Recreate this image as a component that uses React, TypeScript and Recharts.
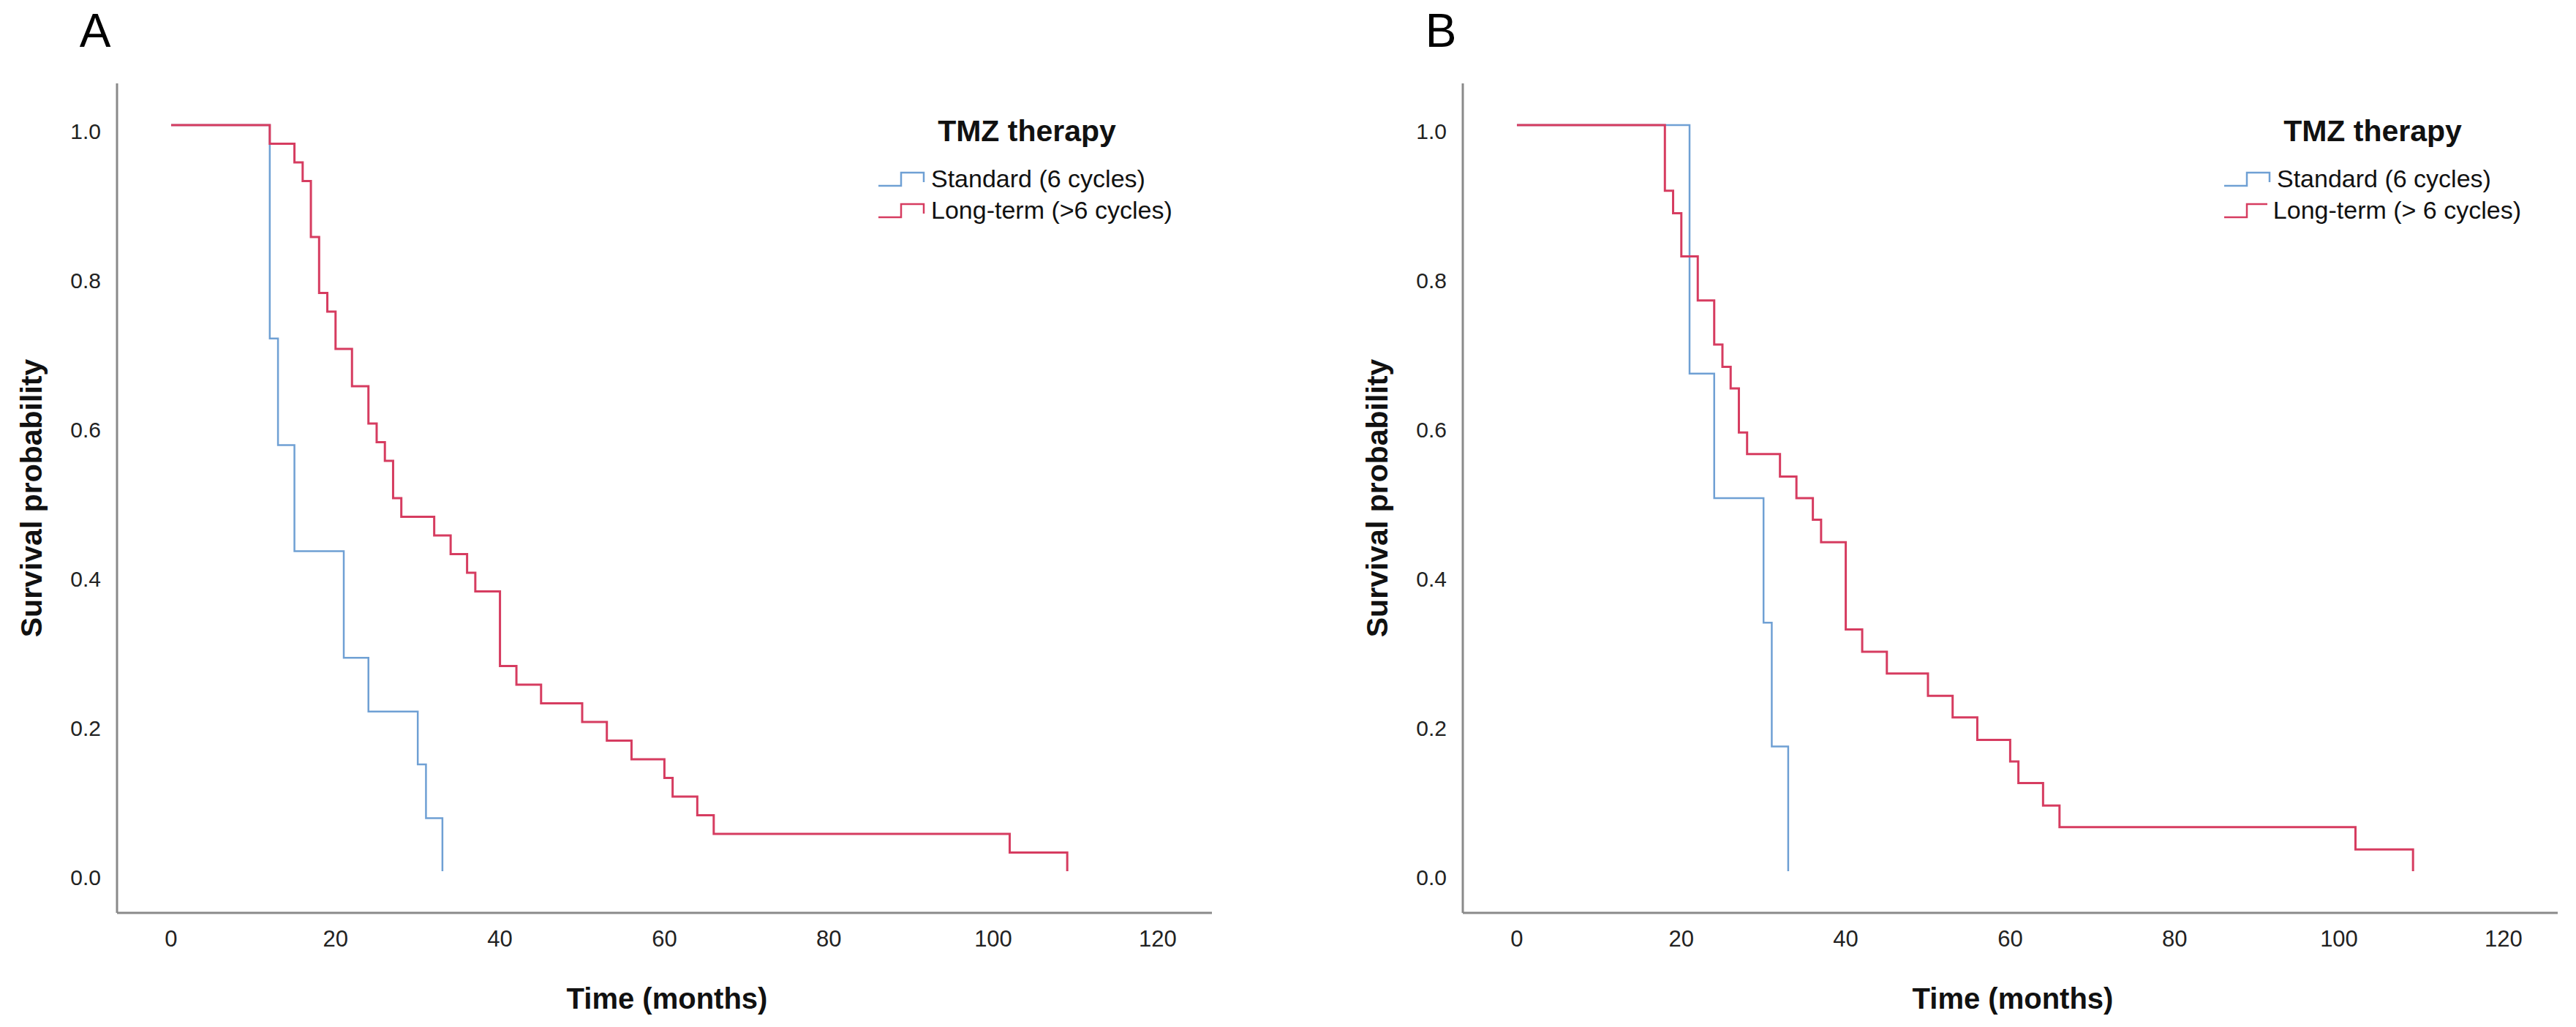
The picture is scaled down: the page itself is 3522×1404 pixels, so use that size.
import { LineChart, Line, XAxis, YAxis, Legend } from "recharts";

const xTicks = [0, 20, 40, 60, 80, 100, 120];
const yTicks = [0, 0.2, 0.4, 0.6, 0.8, 1.0];

// Panel A - Kaplan-Meier steps (months, survival)
const stdTimesA = [0, 12, 13, 15, 21, 24, 30, 31, 33];
const stdSurvA = [1, 0.714, 0.571, 0.429, 0.286, 0.214, 0.143, 0.071, 0];
const longTimesA = [0, 12, 15, 16, 17, 18, 19, 20, 22, 24, 25, 26, 27, 28, 32, 34, 36, 37, 40, 42, 45, 50, 53, 56, 60, 61, 64, 66, 102, 109];
const longSurvA = [1, 0.975, 0.95, 0.925, 0.85, 0.775, 0.75, 0.7, 0.65, 0.6, 0.575, 0.55, 0.5, 0.475, 0.45, 0.425, 0.4, 0.375, 0.275, 0.25, 0.225, 0.2, 0.175, 0.15, 0.125, 0.1, 0.075, 0.05, 0.025, 0];

// Panel B
const stdTimesB = [0, 21, 24, 30, 31, 33];
const stdSurvB = [1, 0.667, 0.5, 0.333, 0.167, 0];
const longTimesB = [0, 18, 19, 20, 22, 24, 25, 26, 27, 28, 32, 34, 36, 37, 40, 42, 45, 50, 53, 56, 60, 61, 64, 66, 102, 109];
const longSurvB = [1, 0.912, 0.882, 0.824, 0.765, 0.706, 0.676, 0.647, 0.588, 0.559, 0.529, 0.5, 0.471, 0.441, 0.324, 0.294, 0.265, 0.235, 0.206, 0.176, 0.147, 0.118, 0.088, 0.059, 0.029, 0];

const BLUE = "#6fa0d4";
const RED = "#d63c60";
const AXIS = "#8a8a8a";
const FONT = "'Liberation Sans', Arial, sans-serif";

const toPoints = (times: number[], surv: number[]) => times.map((t, i) => ({ t, s: surv[i] }));

const YTick = (props: any) => {
  const { x, y, payload } = props;
  return (
    <text x={x} y={y} dy={19} textAnchor="end" fontSize={30} fill="#222" fontFamily={FONT}>
      {Number(payload.value).toFixed(1)}
    </text>
  );
};

const StepIcon = ({ color }: { color: string }) => (
  <svg width={64} height={22} style={{ display: "block", marginRight: 8 }}>
    <path d="M0,20 L31,20 L31,2 L62,2 L62,15" fill="none" stroke={color} strokeWidth={2.5} />
  </svg>
);

const renderLegend = (props: any) => {
  // standard group first, like the SPSS legend
  const items = [...(props.payload || [])].sort((a: any, b: any) =>
    (a.color === BLUE ? 0 : 1) - (b.color === BLUE ? 0 : 1)
  );
  return (
    <div style={{ width: 406, fontFamily: FONT, color: "#111" }}>
      <div style={{ textAlign: "center", fontWeight: "bold", fontSize: 41, lineHeight: "50px", marginBottom: 19 }}>
        TMZ therapy
      </div>
      {items.map((entry: any) => (
        <div key={entry.value} style={{ display: "flex", alignItems: "center", height: 43, fontSize: 34 }}>
          <StepIcon color={entry.color} />
          <span style={{ whiteSpace: "nowrap" }}>{entry.value}</span>
        </div>
      ))}
    </div>
  );
};

type PanelProps = {
  letter: string;
  left: number;
  std: { t: number; s: number }[];
  long: { t: number; s: number }[];
  longName: string;
};

const Panel = ({ letter, left, std, long, longName }: PanelProps) => (
  <div style={{ position: "absolute", left, top: 0, width: 1682, height: 1404 }}>
    <LineChart width={1682} height={1404} margin={{ top: 114, right: 25, bottom: 56, left: 60 }}>
      <XAxis
        type="number"
        dataKey="t"
        domain={[-6.58, 126.6]}
        ticks={xTicks}
        allowDataOverflow
        tickLine={false}
        tickSize={0}
        tickMargin={24}
        height={100}
        stroke={AXIS}
        strokeWidth={3}
        tick={{ fill: "#222", fontSize: 31 }}
      />
      <YAxis
        type="number"
        domain={[-0.056, 1.056]}
        ticks={yTicks}
        allowDataOverflow
        tickLine={false}
        tickSize={0}
        tickMargin={22}
        width={100}
        stroke={AXIS}
        strokeWidth={3}
        tick={<YTick />}
      />
      <Legend content={renderLegend} verticalAlign="middle" wrapperStyle={{ left: 1201, top: 154, width: 406 }} />
      <Line
        data={std}
        dataKey="s"
        name="Standard (6 cycles)"
        type="stepAfter"
        stroke={BLUE}
        strokeWidth={2.5}
        dot={false}
        activeDot={false}
        isAnimationActive={false}
      />
      <Line
        data={long}
        dataKey="s"
        name={longName}
        type="stepAfter"
        stroke={RED}
        strokeWidth={3}
        dot={false}
        activeDot={false}
        isAnimationActive={false}
      />
    </LineChart>
    <div style={{ position: "absolute", left: 130, top: 42, transform: "translate(-50%, -50%)", fontSize: 64, fontFamily: FONT, color: "#000" }}>
      {letter}
    </div>
    <div
      style={{
        position: "absolute",
        left: 43,
        top: 681,
        transform: "translate(-50%, -50%) rotate(-90deg)",
        fontSize: 41,
        fontWeight: "bold",
        fontFamily: FONT,
        whiteSpace: "nowrap",
        color: "#111",
      }}
    >
      Survival probability
    </div>
    <div
      style={{
        position: "absolute",
        left: 912,
        top: 1365,
        transform: "translate(-50%, -50%)",
        fontSize: 40,
        fontWeight: "bold",
        fontFamily: FONT,
        whiteSpace: "nowrap",
        color: "#111",
      }}
    >
      Time (months)
    </div>
  </div>
);

export default function App() {
  return (
    <div style={{ position: "absolute", left: 0, top: 0, width: 3522, height: 1404, overflow: "hidden", background: "#fff", fontFamily: FONT }}>
      <Panel letter="A" left={0} std={toPoints(stdTimesA, stdSurvA)} long={toPoints(longTimesA, longSurvA)} longName="Long-term (>6 cycles)" />
      <Panel letter="B" left={1840} std={toPoints(stdTimesB, stdSurvB)} long={toPoints(longTimesB, longSurvB)} longName="Long-term (> 6 cycles)" />
    </div>
  );
}
